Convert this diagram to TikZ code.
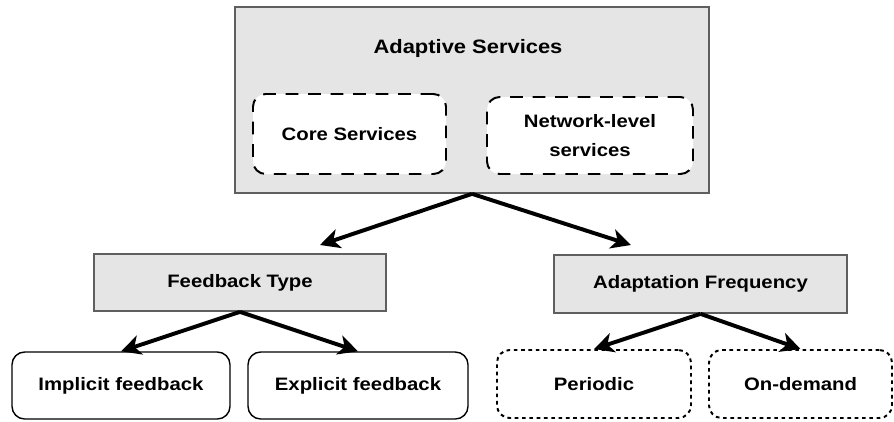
\documentclass[tikz,border=0pt]{standalone}
\usepackage{fontspec}
\setmainfont{Liberation Sans}[FakeStretch=1.13]
\definecolor{BoxGray}{RGB}{229,229,229}
\definecolor{EdgeGray}{RGB}{95,95,95}
\usetikzlibrary{arrows.meta, positioning, calc}

\tikzset{
  graybox/.style={draw=EdgeGray, fill=BoxGray, line width=1.2pt, inner sep=0pt},
  leafbox/.style={draw=black, fill=white, rounded corners=9pt, line width=1pt,
                  inner sep=0pt, align=center},
  dashbox/.style={leafbox, line width=1.4pt, dash pattern=on 9pt off 7pt},
  dotbox/.style={leafbox, line width=1.4pt, dash pattern=on 2.6pt off 2.6pt},
  branch/.style={line width=2.8pt, -{Stealth[length=14pt, width=14pt, inset=4pt]}},
}

\begin{document}
\begin{tikzpicture}[x=0.025cm, y=-0.025cm, font=\fontsize{12.8}{15}\selectfont\bfseries]
  \useasboundingbox (0,0) rectangle (894,421);

  % top level
  \node[graybox, minimum width=474*0.025cm, minimum height=186*0.025cm] (services) at (472,100) {};
  \node[font=\fontsize{13.8}{16}\selectfont\bfseries] (title) at (468,48) {Adaptive Services};
  \node[dashbox, minimum width=193*0.025cm, minimum height=80*0.025cm] (core) at (349.5,134) {Core Services};
  \node[dashbox, minimum width=206*0.025cm, minimum height=77*0.025cm] (netlevel) at (590,135.5) {Network-level\\[6pt]services};

  % second level
  \node[graybox, minimum width=292*0.025cm, minimum height=57*0.025cm] (fbtype) at (240,282.5) {Feedback Type};
  \node[graybox, minimum width=293*0.025cm, minimum height=58*0.025cm] (adfreq) at (700.5,284) {Adaptation Frequency};

  % leaves
  \node[leafbox, minimum width=218*0.025cm, minimum height=67*0.025cm] (implicit) at (121,385.5) {Implicit feedback};
  \node[leafbox, minimum width=220*0.025cm, minimum height=67*0.025cm] (explicit) at (358,385.5) {Explicit feedback};
  \node[dotbox, minimum width=194*0.025cm, minimum height=68*0.025cm] (periodic) at (594,384) {Periodic};
  \node[dotbox, minimum width=183*0.025cm, minimum height=68*0.025cm] (ondemand) at (800.5,384) {On-demand};

  \coordinate (fbin) at (320,245);
  \coordinate (afin) at (631,245);

  \draw[branch] (services.south) -- (fbin);
  \draw[branch] (services.south) -- (afin);
  \draw[branch] (fbtype.south) -- (implicit.north);
  \draw[branch] (fbtype.south) -- (explicit.north);
  \draw[branch] (adfreq.south) -- (periodic.north);
  \draw[branch] (adfreq.south) -- (ondemand.north);
\end{tikzpicture}
\end{document}
